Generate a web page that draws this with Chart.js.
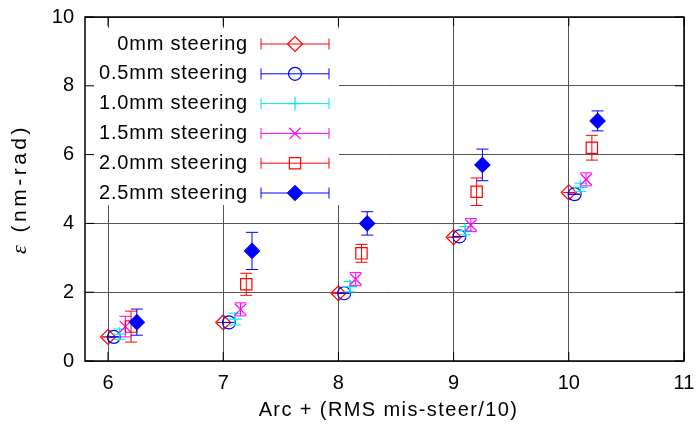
<!DOCTYPE html>
<html>
<head>
<meta charset="utf-8">
<script src="https://cdn.jsdelivr.net/npm/chart.js@4/dist/chart.umd.min.js"></script>
<style>
  html, body { margin: 0; padding: 0; background: #fff; }
  #wrap { width: 699px; height: 426px; position: relative; }
</style>
</head>
<body>
<div id="wrap"><canvas id="c" width="699" height="426"></canvas></div>
<script>
// Arc positions and steering amplitudes (mm); x = arc + RMS mis-steer / 10
const arcs = [6, 7, 8, 9, 10];
const steering = [0, 0.5, 1.0, 1.5, 2.0, 2.5];
const seriesLabels = ['0mm steering', '0.5mm steering', '1.0mm steering',
                      '1.5mm steering', '2.0mm steering', '2.5mm steering'];

// Emittance (nm-rad) per arc, and its error
const eps0mm  = [0.70, 1.12, 1.97, 3.60, 4.90];
const err0mm  = [0, 0, 0, 0, 0];
const eps05mm = [0.70, 1.12, 1.97, 3.62, 4.85];
const err05mm = [0, 0, 0, 0, 0];
const eps10mm = [0.78, 1.22, 2.16, 3.79, 5.05];
const err10mm = [0.15, 0.17, 0.15, 0.12, 0.12];
const eps15mm = [1.00, 1.50, 2.38, 3.95, 5.28];
const err15mm = [0.30, 0.19, 0.19, 0.19, 0.19];
const eps20mm = [1.00, 2.23, 3.13, 4.92, 6.20];
const err20mm = [0.45, 0.32, 0.26, 0.40, 0.36];
const eps25mm = [1.13, 3.20, 4.00, 5.70, 6.98];
const err25mm = [0.38, 0.54, 0.34, 0.46, 0.29];

const xTicks = [6, 7, 8, 9, 10, 11];
const yTicks = [0, 2, 4, 6, 8, 10];
const xTitle = 'Arc + (RMS mis-steer/10)';
const yTitleSymbol = 'ε';
const yTitleUnit = ' (nm-rad)';

const epsSets = [eps0mm, eps05mm, eps10mm, eps15mm, eps20mm, eps25mm];
const errSets = [err0mm, err05mm, err10mm, err15mm, err20mm, err25mm];

const styles = [
  { color: '#ff0000', point: 'rectRot',  radius: 7.5, fill: false },
  { color: '#0000ff', point: 'circle',   radius: 6.5, fill: false },
  { color: '#00e8e8', point: 'cross',    radius: 7,   fill: false },
  { color: '#ff00ff', point: 'crossRot', radius: 8,   fill: false },
  { color: '#ff0000', point: 'rect',     radius: 8,   fill: false },
  { color: '#0000ff', point: 'rectRot',  radius: 7.5, fill: true  }
];

const FAMILY = '"Liberation Sans", Arial, sans-serif';
const FONT = { family: FAMILY, size: 20 };
const CAP = 6;

const datasets = seriesLabels.map((label, s) => ({
  label,
  data: arcs.map((a, i) => ({ x: a + steering[s] / 10, y: epsSets[s][i] })),
  errors: errSets[s],
  showLine: false,
  pointStyle: styles[s].point,
  pointRadius: styles[s].radius,
  pointBorderWidth: 1.2,
  borderColor: styles[s].color,
  pointBorderColor: styles[s].color,
  pointBackgroundColor: styles[s].fill ? styles[s].color : 'rgba(0,0,0,0)',
  order: seriesLabels.length - s
}));

function drawMarker(ctx, st, x, y) {
  ctx.save();
  ctx.strokeStyle = st.color;
  ctx.fillStyle = st.fill ? st.color : 'rgba(0,0,0,0)';
  ctx.lineWidth = 1.2;
  Chart.helpers.drawPoint(ctx, { pointStyle: st.point, radius: st.radius, rotation: 0, borderWidth: 1.2 }, x, y);
  ctx.restore();
}

const errorBars = {
  id: 'errorBars',
  beforeDatasetDraw(chart, args) {
    const ds = chart.data.datasets[args.index];
    const ctx = chart.ctx;
    const ys = chart.scales.y;
    ctx.save();
    ctx.strokeStyle = ds.borderColor;
    ctx.lineWidth = 1;
    args.meta.data.forEach((pt, i) => {
      const v = ds.data[i].y, e = ds.errors[i];
      const yt = ys.getPixelForValue(v + e), yb = ys.getPixelForValue(v - e);
      ctx.beginPath();
      ctx.moveTo(pt.x, yt); ctx.lineTo(pt.x, yb);
      ctx.moveTo(pt.x - CAP, yt); ctx.lineTo(pt.x + CAP, yt);
      ctx.moveTo(pt.x - CAP, yb); ctx.lineTo(pt.x + CAP, yb);
      ctx.stroke();
    });
    ctx.restore();
  }
};

const frameAndKey = {
  id: 'frameAndKey',
  afterDraw(chart) {
    const ctx = chart.ctx;
    const a = chart.chartArea;
    const xs = chart.scales.x, ys = chart.scales.y;
    ctx.save();

    // key box (opaque, no border)
    const kx0 = a.left + 1, ky0 = 28, kx1 = 339, ky1 = 205;
    ctx.fillStyle = '#fff';
    ctx.fillRect(kx0, ky0, kx1 - kx0, ky1 - ky0);
    ctx.font = `${FONT.size}px ${FAMILY}`;
    ctx.letterSpacing = '0.8px';
    ctx.textAlign = 'right';
    ctx.textBaseline = 'middle';
    seriesLabels.forEach((label, s) => {
      const cy = 44 + s * 29.8;
      const st = styles[s];
      ctx.fillStyle = '#000';
      ctx.fillText(label, 248, cy);
      ctx.strokeStyle = st.color;
      ctx.lineWidth = 1;
      ctx.beginPath();
      ctx.moveTo(261, cy); ctx.lineTo(329, cy);
      ctx.moveTo(261, cy - 5.5); ctx.lineTo(261, cy + 5.5);
      ctx.moveTo(329, cy - 5.5); ctx.lineTo(329, cy + 5.5);
      ctx.stroke();
      drawMarker(ctx, st, 295, cy);
    });

    // inward tick marks on all four sides
    ctx.strokeStyle = '#000';
    ctx.lineWidth = 1;
    ctx.beginPath();
    const TL = 9;
    xTicks.forEach(v => {
      const px = xs.getPixelForValue(v);
      ctx.moveTo(px, a.bottom); ctx.lineTo(px, a.bottom - TL);
      ctx.moveTo(px, a.top); ctx.lineTo(px, a.top + TL);
    });
    yTicks.forEach(v => {
      const py = ys.getPixelForValue(v);
      ctx.moveTo(a.left, py); ctx.lineTo(a.left + TL, py);
      ctx.moveTo(a.right, py); ctx.lineTo(a.right - TL, py);
    });
    ctx.stroke();

    // frame
    ctx.lineWidth = 1.5;
    ctx.strokeRect(a.left, a.top, a.right - a.left, a.bottom - a.top);

    // x axis title
    ctx.fillStyle = '#000';
    ctx.font = `${FONT.size}px ${FAMILY}`;
    ctx.letterSpacing = '1.4px';
    ctx.textAlign = 'center';
    ctx.textBaseline = 'middle';
    ctx.fillText(xTitle, (a.left + a.right) / 2 + 4, 410);

    // y axis title: italic epsilon followed by the unit
    ctx.translate(20, (a.top + a.bottom) / 2);
    ctx.rotate(-Math.PI / 2);
    ctx.textAlign = 'left';
    ctx.letterSpacing = '3.5px';
    const symFont = `italic ${FONT.size + 2}px "Liberation Serif", serif`;
    const unitFont = `${FONT.size + 1}px ${FAMILY}`;
    ctx.font = symFont;
    const w1 = ctx.measureText(yTitleSymbol).width;
    ctx.font = unitFont;
    const w2 = ctx.measureText(yTitleUnit).width;
    const start = -(w1 + w2) / 2;
    ctx.font = symFont;
    ctx.fillText(yTitleSymbol, start, 0);
    ctx.font = unitFont;
    ctx.fillText(yTitleUnit, start + w1, 0);
    ctx.restore();
  }
};

new Chart(document.getElementById('c'), {
  type: 'scatter',
  data: { datasets },
  options: {
    responsive: false,
    animation: false,
    devicePixelRatio: 1,
    layout: { autoPadding: false, padding: { left: 0, right: 15, top: 17, bottom: 0 } },
    plugins: { legend: { display: false }, tooltip: { enabled: false } },
    scales: {
      x: {
        type: 'linear', min: 5.8, max: 11,
        afterBuildTicks: s => { s.ticks = xTicks.map(v => ({ value: v })); },
        afterFit: s => { s.height = 65; s.paddingLeft = 0; s.paddingRight = 0; },
        grid: { color: '#555', lineWidth: 1, drawTicks: false },
        border: { display: false },
        ticks: { font: FONT, color: '#000', padding: 10, maxRotation: 0 }
      },
      y: {
        type: 'linear', min: 0, max: 10,
        afterBuildTicks: s => { s.ticks = yTicks.map(v => ({ value: v })); },
        afterFit: s => { s.width = 85; s.paddingTop = 0; s.paddingBottom = 0; },
        grid: { color: '#555', lineWidth: 1, drawTicks: false },
        border: { display: false },
        ticks: { font: FONT, color: '#000', padding: 11 }
      }
    }
  },
  plugins: [errorBars, frameAndKey]
});
</script>
</body>
</html>
